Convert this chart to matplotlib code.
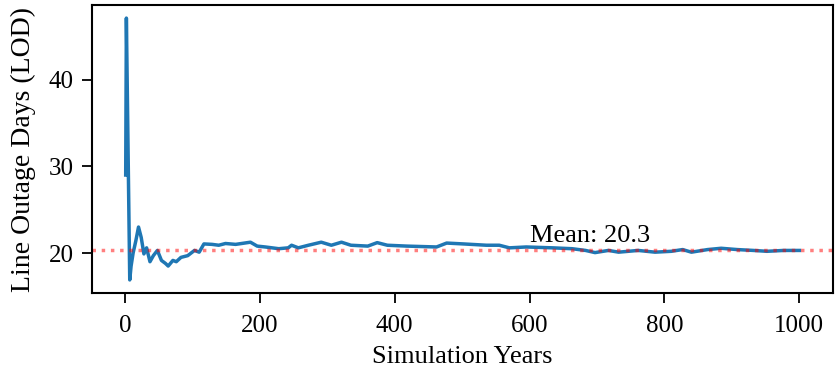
import matplotlib
matplotlib.use("Agg")
import matplotlib.pyplot as plt

plt.rcParams['font.family'] = ['Liberation Serif', 'DejaVu Serif']

years = [1, 2, 7, 9, 12, 16, 20, 24, 28, 32, 37, 42, 48, 54, 60, 64, 71, 76, 83,
         93, 103, 110, 117, 129, 139, 149, 164, 186, 196, 208, 228, 242, 247, 257,
         272, 291, 306, 321, 335, 360, 374, 389, 418, 462, 477, 502, 536, 555, 570,
         595, 634, 663, 683, 697, 717, 732, 761, 786, 810, 827, 840, 864, 884, 908,
         932, 952, 977, 1000]
lod = [29.0, 47.1, 16.9, 18.5, 20.0, 21.4, 23.0, 21.8, 19.9, 20.6, 19.0, 19.7,
       20.3, 19.15, 18.8, 18.5, 19.15, 19.0, 19.5, 19.7, 20.3, 20.1, 21.05, 21.0,
       20.9, 21.1, 21.0, 21.25, 20.8, 20.7, 20.5, 20.6, 20.9, 20.6, 20.9, 21.25,
       20.9, 21.25, 20.9, 20.8, 21.2, 20.9, 20.8, 20.7, 21.15, 21.05, 20.9, 20.9,
       20.6, 20.7, 20.6, 20.5, 20.3, 20.05, 20.3, 20.1, 20.3, 20.1, 20.2, 20.4,
       20.1, 20.4, 20.55, 20.4, 20.3, 20.2, 20.3, 20.3]
mean_val = 20.3
mean_label = "Mean: 20.3"
mean_label_x = 600

fig = plt.figure(figsize=(8.35, 3.77), dpi=100)
ax = fig.add_axes([0.1102, 0.2228, 0.8874, 0.7639])

ax.plot(years, lod, color='#1f77b4', linewidth=2.5)
ax.axhline(mean_val, color='red', linestyle=':', linewidth=2.5, alpha=0.5)
ax.text(mean_label_x, mean_val + 1.0, mean_label, fontsize=19)

ax.set_xlabel("Simulation Years", fontsize=19, labelpad=6)
ax.set_ylabel("Line Outage Days (LOD)", fontsize=20, labelpad=9)
ax.tick_params(labelsize=18, length=7, width=1.3)
ax.tick_params(axis='x', pad=9)
ax.tick_params(axis='y', pad=6)
ax.set_yticks([20, 30, 40])
for s in ax.spines.values():
    s.set_linewidth(1.5)

fig.savefig("out.png", dpi=100)
